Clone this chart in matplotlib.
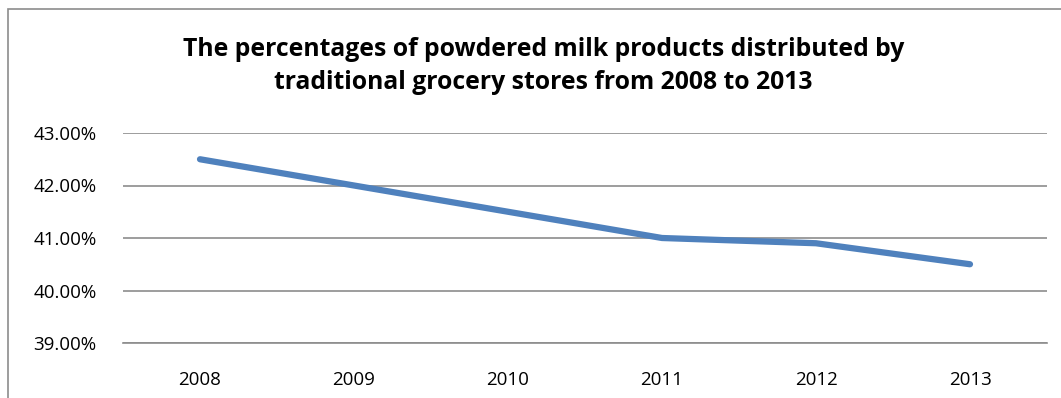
import matplotlib.pyplot as plt
from matplotlib.patches import Rectangle
from matplotlib.ticker import FuncFormatter

years = ["2008", "2009", "2010", "2011", "2012", "2013"]
share = [42.5, 42.0, 41.5, 41.0, 40.9, 40.5]
y_ticks = [39, 40, 41, 42, 43]

W, H = 1061, 398
fig = plt.figure(figsize=(W / 100, H / 100), dpi=100)
plt.rcParams['font.family'] = ['Open Sans', 'DejaVu Sans']

# chart area border (cut off at the right and bottom)
fig.patches.append(Rectangle((8 / W, -0.1), 1.2, 1 - 9 / H + 0.1,
                             transform=fig.transFigure, fill=False,
                             edgecolor="#8c8c8c", linewidth=1.2))

ax = fig.add_axes([123 / W, 1 - 343 / H, (1047 - 123) / W, (343 - 133) / H])
x = range(len(years))
ax.plot(x, share, color="#4f81bd", linewidth=4.5, solid_capstyle="round")

ax.set_xlim(-0.5, len(years) - 0.5)
ax.set_ylim(39, 43)
ax.set_yticks(y_ticks)
ax.yaxis.set_major_formatter(FuncFormatter(lambda v, p: f"{v:.2f}%"))
ax.set_xticks(list(x))
ax.set_xticklabels(years)
ax.grid(axis="y", color="#8c8c8c", linewidth=1.2)
ax.set_axisbelow(True)
for s in ["left", "right", "top"]:
    ax.spines[s].set_visible(False)
ax.spines["bottom"].set_color("#8c8c8c")
ax.spines["bottom"].set_linewidth(1.2)
ax.tick_params(length=0, labelsize=13.5)
ax.tick_params(axis="x", pad=20)
ax.tick_params(axis="y", pad=19)

fig.text(0.512, 1 - 66 / H,
         "The percentages of powdered milk products distributed by\ntraditional grocery stores from 2008 to 2013",
         ha="center", va="center", fontsize=17.8, fontweight="bold",
         linespacing=1.45)

fig.savefig("out.png", dpi=100)
